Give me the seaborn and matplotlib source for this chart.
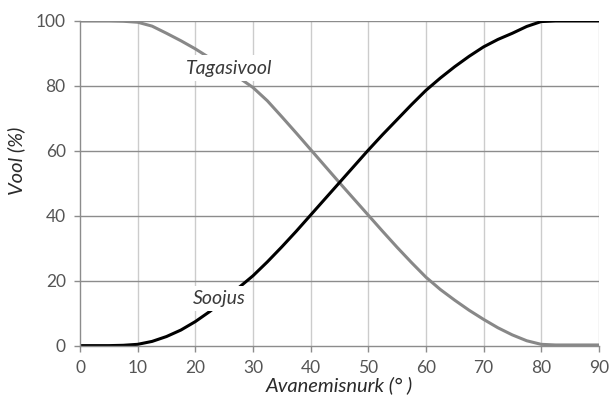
import matplotlib
matplotlib.use('Agg')
import matplotlib.pyplot as plt
import pandas as pd
import seaborn as sns

# avanemisnurk (kraadid) ja vool (%)
angle = [0, 2.5, 5, 7.5, 10, 12.5, 15, 17.5, 20, 22.5, 25, 27.5, 30, 32.5, 35, 37.5,
         40, 42.5, 45, 47.5, 50, 52.5, 55, 57.5, 60, 62.5, 65, 67.5, 70, 72.5, 75,
         77.5, 80, 82.5, 85, 87.5, 90]
soojus = [0, 0, 0, 0.1, 0.4, 1.3, 2.8, 4.8, 7.4, 10.5, 14, 17.8, 21.5, 25.8, 30.4, 35.2,
          40.2, 45.2, 50.2, 55.2, 60.2, 65, 69.6, 74.2, 78.6, 82.4, 85.9, 89.1, 92, 94.3, 96.2,
          98.3, 99.8, 100, 100, 100, 100]
tagasivool = [100, 100, 100, 99.9, 99.6, 98.4, 96.2, 93.9, 91.4, 88.6, 85.6, 82.6, 79.5, 75.4, 70.5, 65.5,
              60.4, 55.3, 50.2, 45.2, 40.2, 35.2, 30.3, 25.6, 21.1, 17.3, 14, 10.9, 8.1, 5.5, 3.3,
              1.5, 0.4, 0.2, 0.2, 0.2, 0.2]
xticks = [0, 10, 20, 30, 40, 50, 60, 70, 80, 90]
yticks = [0, 20, 40, 60, 80, 100]

df = pd.DataFrame({'angle': angle, 'Soojus': soojus, 'Tagasivool': tagasivool})

sns.set_style('white')
plt.rcParams['font.family'] = ['Lato', 'DejaVu Sans']

fig = plt.figure(figsize=(6.11, 3.95), dpi=100)
ax = fig.add_axes([0.131, 0.125, 0.849, 0.822])

for x in xticks[1:]:
    ax.axvline(x, color='#cccccc', lw=1, zorder=0)
for y in yticks[1:]:
    ax.axhline(y, color='#8c8c8c', lw=1, zorder=0)

sns.lineplot(data=df, x='angle', y='Tagasivool', color='#888888', lw=2.2, ax=ax,
             solid_joinstyle='round', solid_capstyle='round')
sns.lineplot(data=df, x='angle', y='Soojus', color='black', lw=2.2, ax=ax,
             solid_joinstyle='round', solid_capstyle='round')

box = dict(facecolor='white', edgecolor='none', pad=3)
ax.text(25.9, 85.5, 'Tagasivool', style='italic', fontsize=14, color='#3a3a3a',
        ha='center', va='center', bbox=box, zorder=5)
ax.text(24.2, 14.5, 'Soojus', style='italic', fontsize=14, color='#3a3a3a',
        ha='center', va='center', bbox=box, zorder=5)

ax.set_xlim(0, 90)
ax.set_ylim(0, 100)
ax.set_xticks(xticks)
ax.set_yticks(yticks)
ax.tick_params(axis='both', colors='#8c8c8c', labelcolor='#555555', labelsize=12.5,
               length=4.3, width=1, direction='out', bottom=True, left=True, pad=6)
for s in ['top', 'right']:
    ax.spines[s].set_visible(False)
for s in ['left', 'bottom']:
    ax.spines[s].set_color('#8c8c8c')
    ax.spines[s].set_linewidth(1)

ax.set_xlabel('Avanemisnurk (° )', style='italic', fontsize=14.5, color='#2a2a2a', labelpad=0)
ax.set_ylabel('Vool (%)', style='italic', fontsize=14.5, color='#2a2a2a')
ax.yaxis.set_label_coords(-0.105, 0.57)

fig.savefig('out.png', dpi=100)
